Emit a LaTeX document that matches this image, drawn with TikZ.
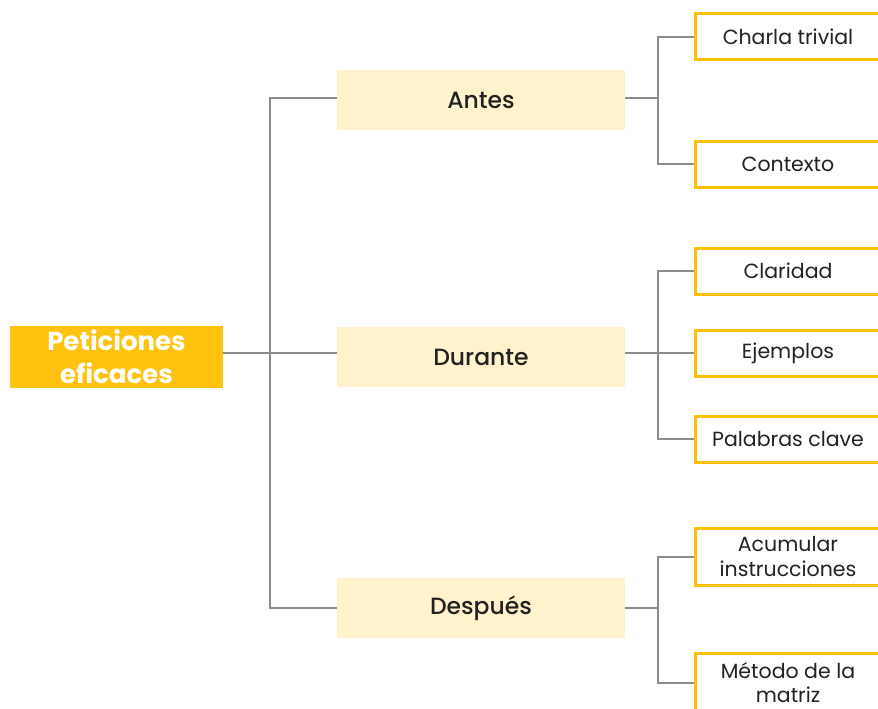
\documentclass[tikz,border=0pt]{standalone}
\usepackage{fontspec}
\setmainfont{Poppins}
\newfontfamily\pmed{Poppins}[UprightFont=* Medium]
\definecolor{gold}{HTML}{FFC000}
\definecolor{rootfill}{HTML}{FFC20E}
\definecolor{midfill}{HTML}{FFF2CC}
\definecolor{lin}{HTML}{8C8C8C}
\definecolor{txt}{HTML}{222222}
\begin{document}
\begin{tikzpicture}[x=1pt,y=-1pt,
  rootbox/.style={fill=rootfill,minimum width=213pt,minimum height=62pt,inner sep=0pt,align=center,text=white,font=\fontsize{26}{33}\selectfont\bfseries},
  midbox/.style={fill=midfill,minimum width=288pt,minimum height=60pt,inner sep=0pt,font=\pmed\fontsize{23.5}{25}\selectfont,text=txt},
  leafbox/.style={draw=gold,line width=3pt,fill=white,minimum width=186pt,inner sep=0pt,align=center,font=\fontsize{20.5}{25}\selectfont,text=txt},
  conn/.style={draw=lin,line width=1.6pt}]
\useasboundingbox (0,0) rectangle (878,709);
\fill[white] (0,0) rectangle (878,709);
% root
\node[rootbox] (root) at (116.5,357) {Peticiones\\eficaces};
% middle
\node[midbox] (antes) at (481,100) {Antes};
\node[midbox] (durante) at (481,357) {Durante};
\node[midbox] (despues) at (481,608) {Después};
% leaves
\node[leafbox,minimum height=46pt] (charla) at (788,37) {Charla trivial};
\node[leafbox,minimum height=46pt] (contexto) at (788,164) {Contexto};
\node[leafbox,minimum height=46pt] (claridad) at (788,271) {Claridad};
\node[leafbox,minimum height=46pt] (ejemplos) at (788,353) {Ejemplos};
\node[leafbox,minimum height=46pt] (palabras) at (788,439) {Palabras clave};
\node[leafbox,minimum height=57pt] (acumular) at (788,557) {Acumular\\instrucciones};
\node[leafbox,minimum height=60pt,font=\fontsize{20.5}{24}\selectfont] (metodo) at (788,683) {Método de la\\matriz};
% junctions
\coordinate (j0) at (270,353);
\coordinate (j1) at (658,98);
\coordinate (j2) at (658,353);
\coordinate (j3) at (658,608);
% connectors
\draw[conn] (root.east |- j0) -- (j0);
\draw[conn] (antes.west |- j1) -| (j0);
\draw[conn] (despues.west |- j3) -| (j0);
\draw[conn] (j0) -- (durante.west |- j0);
\draw[conn] (antes.east |- j1) -- (j1);
\draw[conn] (charla.west) -| (j1) |- (contexto.west);
\draw[conn] (durante.east |- j2) -- (ejemplos.west);
\draw[conn] (claridad.west) -| (j2) |- (palabras.west);
\draw[conn] (despues.east |- j3) -- (j3);
\draw[conn] (acumular.west) -| (j3) |- (metodo.west);
\end{tikzpicture}
\end{document}
